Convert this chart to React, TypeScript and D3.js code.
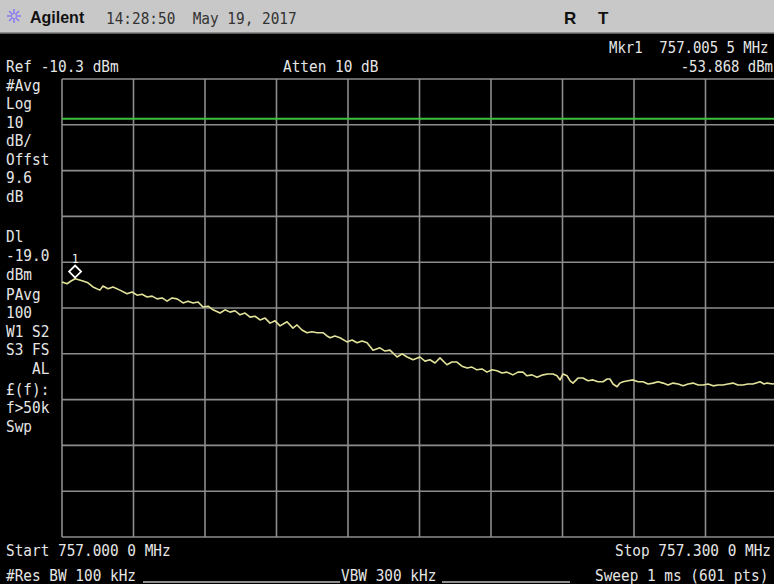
import React from 'react';
import * as d3 from 'd3';

// Frequency offset from 757.000 0 MHz (kHz) and trace level (dBm)
const traceKHz = [
  0, 2.1, 3.8, 5.5, 8.8, 10.9, 13.0, 15.9, 17.2, 19.3,
  21.4, 24.3, 27.3, 29.4, 31.5, 33.6, 35.7, 37.8, 39.9, 42.0,
  44.1, 46.2, 48.3, 50.8, 52.9, 55.0, 57.1, 59.2, 61.3, 63.4,
  66.3, 68.4, 70.5, 72.6, 74.7, 76.8, 78.9, 81.0, 83.1, 85.2,
  87.3, 89.4, 91.5, 94.4, 96.9, 98.6, 100.7, 102.8, 104.9, 107.0,
  109.5, 111.2, 112.5, 114.5, 116.6, 119.6, 121.7, 123.8, 125.9, 128.0,
  130.5, 133.4, 135.5, 137.6, 140.6, 142.7, 144.8, 147.3, 150.2, 152.3,
  154.4, 156.5, 158.6, 161.5, 163.6, 165.7, 167.8, 170.0, 172.0, 174.1,
  176.2, 178.3, 180.4, 182.5, 184.6, 186.7, 189.2, 191.3, 193.4, 195.1,
  197.2, 199.3, 201.8, 203.9, 206.0, 207.7, 209.0, 210.2, 211.9, 213.2,
  214.4, 216.5, 218.6, 220.7, 222.8, 224.9, 227.0, 228.7, 229.9, 231.2,
  232.9, 234.1, 235.4, 237.5, 239.6, 241.7, 243.8, 245.9, 248.0, 250.1,
  252.2, 254.3, 256.4, 258.5, 260.6, 262.7, 264.8, 266.9, 269.0, 271.1,
  273.2, 275.3, 277.3, 279.4, 281.5, 283.6, 285.7, 287.8, 289.9, 292.9,
  294.6, 295.8, 298.3, 300
];

const traceDbm = [
  -54.6, -55.0, -54.4, -53.9, -54.4, -54.8, -55.7, -56.4, -55.5, -56.1,
  -55.7, -56.4, -57.2, -56.8, -57.5, -57.3, -57.9, -57.7, -58.3, -58.1,
  -58.8, -58.1, -58.3, -59.2, -58.8, -59.2, -59.0, -60.1, -59.9, -60.7,
  -61.4, -60.7, -61.2, -60.9, -61.8, -61.4, -62.3, -62.1, -62.9, -62.5,
  -63.6, -63.1, -64.2, -63.3, -64.7, -64.0, -65.1, -65.7, -65.5, -65.7,
  -65.7, -66.4, -66.8, -66.4, -66.8, -67.7, -67.3, -67.9, -67.5, -67.9,
  -69.5, -69.0, -69.7, -69.5, -71.0, -70.3, -71.0, -71.6, -71.0, -71.9,
  -71.6, -72.3, -71.2, -72.7, -72.1, -72.1, -73.0, -73.4, -73.2, -73.8,
  -73.6, -74.3, -73.8, -74.0, -74.5, -74.3, -74.9, -74.3, -74.3, -75.1,
  -74.9, -75.4, -74.9, -74.7, -74.7, -75.1, -76.0, -74.7, -75.1, -76.2,
  -76.7, -75.6, -75.6, -76.2, -76.0, -76.4, -76.4, -75.8, -75.8, -76.9,
  -77.5, -76.7, -76.4, -76.2, -76.0, -76.4, -76.4, -76.9, -76.7, -76.4,
  -76.7, -77.1, -76.7, -76.9, -77.3, -76.9, -76.7, -77.1, -77.1, -76.9,
  -77.3, -77.1, -77.1, -76.9, -76.7, -77.1, -77.1, -76.9, -76.9, -76.4,
  -76.9, -76.7, -76.9, -76.7
];

const refLevel = -10.3;
const dbPerDiv = 10;
const spanKHz = 300;
const displayLine = -19.0;
const markerKHz = 5.5;
const markerDbm = -53.868;

const sideLabels = [
  { t: '#Avg', y: 91 }, { t: 'Log', y: 109 }, { t: '10', y: 128 }, { t: 'dB/', y: 146 },
  { t: 'Offst', y: 165 }, { t: '9.6', y: 183 }, { t: 'dB', y: 202 },
  { t: 'Dl', y: 242 }, { t: '-19.0', y: 261 }, { t: 'dBm', y: 280 },
  { t: 'PAvg', y: 300 }, { t: '100', y: 318 }, { t: 'W1 S2', y: 337 }, { t: 'S3 FS', y: 355 },
  { t: '   AL', y: 374 }, { t: '£(f):', y: 395 }, { t: 'f>50k', y: 413 }, { t: 'Swp', y: 432 }
];

const W = 774;
const H = 584;
const plot = { left: 62, top: 79, right: 777, bottom: 537 };
const MONO = '"DejaVu Sans Mono", "Liberation Mono", monospace';
const FG = '#e6e6e6';

const Txt: React.FC<{ x: number; y: number; t: string; anchor?: string; size?: number; fill?: string }> = ({ x, y, t, anchor = 'start', size = 16, fill = FG }) => (
  <text
    transform={`translate(${x},${y}) scale(0.9,1)`}
    textAnchor={anchor}
    fontFamily={MONO}
    fontSize={size}
    fill={fill}
    style={{ whiteSpace: 'pre' }}
  >
    {t}
  </text>
);

export default function App() {
  const x = d3.scaleLinear().domain([0, spanKHz]).range([plot.left, plot.right]);
  const y = d3.scaleLinear().domain([refLevel, refLevel - 10 * dbPerDiv]).range([plot.top, plot.bottom]);

  const pts = traceKHz.map((f, i) => [f, traceDbm[i]] as [number, number]);
  const line = d3.line<[number, number]>().x(d => x(d[0])).y(d => y(d[1]));

  const vDivs = d3.range(11).map(i => (i * spanKHz) / 10);
  const hDivs = d3.range(11).map(i => refLevel - i * dbPerDiv);

  const mx = x(markerKHz);
  const my = y(markerDbm);

  // little starburst logo
  const rays = d3.range(8).map(i => (i * Math.PI) / 4);

  return (
    <svg width={W} height={H} style={{ position: 'absolute', left: 0, top: 0, display: 'block' }}>
      <rect x={0} y={0} width={W} height={H} fill="#000" />
      {/* header bar */}
      <rect x={0} y={0} width={W} height={33} fill="#c8c8c8" />
      <line x1={0} x2={W} y1={33} y2={33} stroke="#7a7a7a" strokeWidth={1.5} />
      <g transform="translate(14,16)">
        {rays.map((a, i) => (
          <line key={i} x1={0} y1={0} x2={Math.cos(a) * 7} y2={Math.sin(a) * 7} stroke="#8a7cf0" strokeWidth={1.6} />
        ))}
        <circle r={2.5} fill="#c8c8c8" stroke="#8a7cf0" strokeWidth={1} />
      </g>
      <text x={30} y={23} fontFamily='"Liberation Sans", Arial, sans-serif' fontWeight="bold" fontSize={16} fill="#111">Agilent</text>
      <Txt x={106} y={24} t="14:28:50  May 19, 2017" fill="#333" />
      <text x={564} y={24} fontFamily='"Liberation Sans", Arial, sans-serif' fontWeight="bold" fontSize={17} fill="#111">R</text>
      <text x={598} y={24} fontFamily='"Liberation Sans", Arial, sans-serif' fontWeight="bold" fontSize={17} fill="#111">T</text>

      {/* top annotation */}
      <Txt x={609} y={53} t="Mkr1  757.005 5 MHz" size={15.5} />
      <Txt x={6} y={72} t="Ref -10.3 dBm" />
      <Txt x={283} y={72} t="Atten 10 dB" />
      <Txt x={773} y={72} t="-53.868 dBm" anchor="end" size={15.5} />

      {/* left annotation column */}
      {sideLabels.map((d, i) => (
        <Txt key={i} x={6} y={d.y} t={d.t} />
      ))}

      {/* graticule */}
      <g stroke="#8c8c8c" strokeWidth={1.6}>
        {vDivs.map((v, i) => (
          <line key={'v' + i} x1={x(v)} x2={x(v)} y1={plot.top} y2={plot.bottom} />
        ))}
        {hDivs.map((v, i) => (
          <line key={'h' + i} x1={plot.left} x2={plot.right} y1={y(v)} y2={y(v)} />
        ))}
      </g>

      {/* display line */}
      <line x1={plot.left} x2={plot.right} y1={y(displayLine)} y2={y(displayLine)} stroke="#3fbf3f" strokeWidth={2} />

      {/* trace */}
      <path d={line(pts) || ''} fill="none" stroke="#e2e29a" strokeWidth={1.6} strokeLinejoin="round" />

      {/* marker */}
      <path d={`M${mx},${my - 1} l-6,-6 l6,-6 l6,6 z`} fill="none" stroke="#fff" strokeWidth={1.8} />
      <Txt x={mx - 3} y={my - 16} t="1" size={12} fill="#fff" />

      {/* bottom annotation */}
      <Txt x={6} y={556} t="Start 757.000 0 MHz" />
      <Txt x={615} y={556} t="Stop 757.300 0 MHz" />
      <Txt x={6} y={581} t="#Res BW 100 kHz" />
      <Txt x={341} y={581} t="VBW 300 kHz" />
      <Txt x={595} y={581} t="Sweep 1 ms (601 pts)" />
      <line x1={143} x2={340} y1={582} y2={582} stroke="#bdbdbd" strokeWidth={1.5} />
      <line x1={442} x2={570} y1={582} y2={582} stroke="#bdbdbd" strokeWidth={1.5} />
    </svg>
  );
}
